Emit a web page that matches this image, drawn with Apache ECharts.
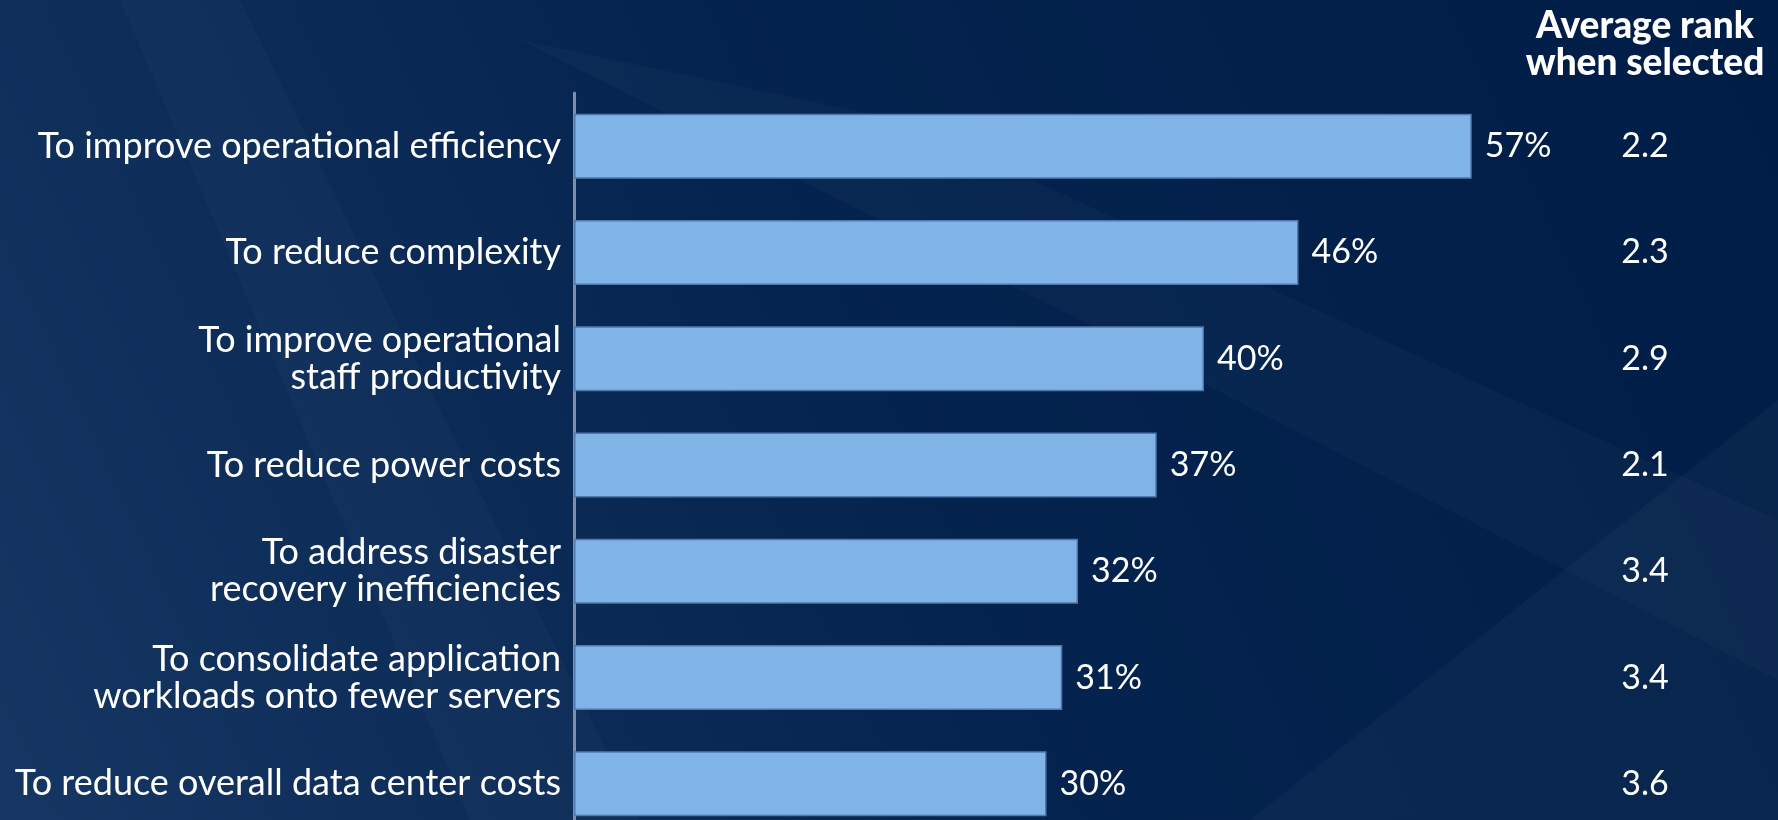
<!DOCTYPE html>
<html>
<head>
<meta charset="utf-8">
<script src="https://cdn.jsdelivr.net/npm/echarts@6/dist/echarts.min.js"></script>
<style>
html,body{margin:0;padding:0;background:#06264f;}
#chart{width:1778px;height:820px;}
</style>
</head>
<body>
<div id="chart"></div>
<script>
const categories = [
  'To improve operational efficiency',
  'To reduce complexity',
  'To improve operational\nstaff productivity',
  'To reduce power costs',
  'To address disaster\nrecovery inefficiencies',
  'To consolidate application\nworkloads onto fewer servers',
  'To reduce overall data center costs'
];
const percentValues = [57, 46, 40, 37, 32, 31, 30];
const averageRanks = ['2.2', '2.3', '2.9', '2.1', '3.4', '3.4', '3.6'];
const rankHeader = 'Average rank\nwhen selected';

const chart = echarts.init(document.getElementById('chart'));
const FONT = 'Lato';

chart.setOption({
  backgroundColor: {
    type: 'linear', x: 1, y: 0, x2: 0, y2: 1,
    colorStops: [
      { offset: 0, color: '#001d46' },
      { offset: 0.5, color: '#04234e' },
      { offset: 1, color: '#163663' }
    ]
  },
  graphic: [
    { type: 'polygon', silent: true, z: -10,
      shape: { points: [[120, 0], [240, 0], [640, 820], [470, 820]] },
      style: { fill: 'rgba(255,255,255,0.02)' } },
    { type: 'polygon', silent: true, z: -10,
      shape: { points: [[520, 40], [900, 120], [1778, 520], [1778, 680], [1100, 330]] },
      style: { fill: 'rgba(255,255,255,0.025)' } },
    { type: 'polygon', silent: true, z: -10,
      shape: { points: [[1250, 820], [1778, 400], [1778, 820]] },
      style: { fill: 'rgba(255,255,255,0.03)' } }
  ],
  title: {
    text: rankHeader,
    left: 1640,
    top: 3,
    textAlign: 'center',
    textStyle: {
      color: '#ffffff', fontFamily: FONT, fontWeight: 900,
      fontSize: 37, lineHeight: 37, align: 'center'
    }
  },
  grid: { left: 574, top: 93, width: 1071, height: 744, containLabel: false, outerBoundsMode: 'none' },
  xAxis: {
    type: 'value', min: 0, max: 68,
    show: false, splitLine: { show: false }
  },
  yAxis: [
    {
      type: 'category', inverse: true, data: categories,
      axisLine: { show: true, lineStyle: { color: '#7f8ea8', width: 3 } },
      axisTick: { show: false },
      axisLabel: {
        interval: 0, color: '#ffffff', fontFamily: FONT, fontSize: 36,
        lineHeight: 37, margin: 13, align: 'right'
      }
    },
    {
      type: 'category', inverse: true, data: categories, position: 'right',
      axisLine: { show: false }, axisTick: { show: false },
      axisLabel: {
        interval: 0, color: '#ffffff', fontFamily: FONT, fontSize: 34,
        margin: 0, align: 'center',
        formatter: (v, i) => averageRanks[i]
      }
    }
  ],
  series: [{
    type: 'bar', data: percentValues, yAxisIndex: 0, barWidth: 65,
    itemStyle: { color: '#80b3e6', borderColor: '#5279ad', borderWidth: 1.5 },
    label: {
      show: true, position: 'right', distance: 13,
      formatter: '{c}%', color: '#ffffff', fontFamily: FONT, fontSize: 34
    },
    silent: true
  }],
  animation: false
});
</script>
</body>
</html>
